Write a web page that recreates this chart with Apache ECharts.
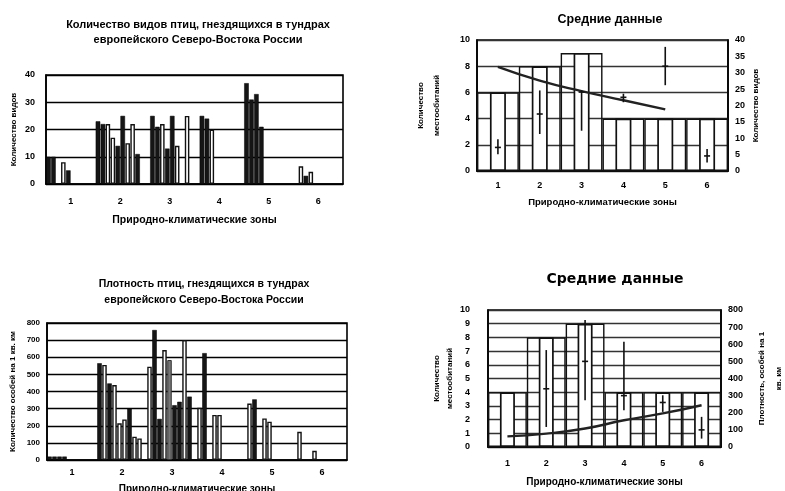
<!DOCTYPE html>
<html><head><meta charset="utf-8">
<script src="https://cdn.jsdelivr.net/npm/echarts@6/dist/echarts.min.js"></script>
<style>html,body{margin:0;padding:0;background:#fff}#c{width:785px;height:491px}</style>
</head><body><div id="c"></div>
<script>
// ---------- DATA ----------
const zones = ['1', '2', '3', '4', '5', '6'];
// fine slots (10 per zone) used for the individual sites of the two left charts
const slots = ['1','2','3','4','5','6','7','8','9','10','11','12','13','14','15','16','17','18','19','20',
  '21','22','23','24','25','26','27','28','29','30','31','32','33','34','35','36','37','38','39','40',
  '41','42','43','44','45','46','47','48','49','50','51','52','53','54','55','56','57','58','59','60'];

// Top-left: number of species per site (dark / light bars)
const speciesDark = [
  10, 10, null, null, 5, null, null, null, null, null,
  23, 22, null, null, 14, 25, null, null, 11, null,
  null, 25, 21, null, 13, 25, null, null, null, null,
  null, 25, 24, null, null, null, null, null, null, null,
  37, 31, 33, 21, null, null, null, null, null, null,
  null, null, 3, null, null, null, null, null, null, null];
const speciesLight = [
  null, null, null, 8, null, null, null, null, null, null,
  null, null, 22, 17, null, null, 15, 22, null, null,
  null, null, null, 22, null, null, 14, null, 25, null,
  null, null, null, 20, null, null, null, null, null, null,
  null, null, null, null, null, null, null, null, null, null,
  null, 6.5, null, 4.5, null, null, null, null, null, null];

// Bottom-left: density per site (dark / light / grey bars)
const densityDark = [
  20, 20, 20, 20, null, null, null, null, null, null,
  565, null, 447, null, null, null, 300, null, null, null,
  null, 759, 240, null, null, 320, 340, null, 370, null,
  null, 624, null, null, null, null, null, null, null, null,
  null, 354, null, null, null, null, null, null, null, null,
  null, null, null, null, null, null, null, null, null, null];
const densityLight = [
  null, null, null, null, null, null, null, null, null, null,
  null, 555, null, 438, 214, 237, null, 136, 126, null,
  545, null, null, 642, null, null, null, 700, null, null,
  305, null, null, 263, 263, null, null, null, null, null,
  330, null, null, 243, 224, null, null, null, null, null,
  165, null, null, 54, null, null, null, null, null, null];
const densityGrey = [
  null, null, null, null, null, null, null, null, null, null,
  null, null, null, null, null, null, null, null, null, null,
  null, null, null, null, 584, null, null, null, null, null,
  null, null, null, null, null, null, null, null, null, null,
  null, null, null, null, null, null, null, null, null, null,
  null, null, null, null, null, null, null, null, null, null];

// Top-right: mean data
const habitatsA = [6, 8, 9, 4, 4, 4];
const speciesTrend = [31.8, 27.6, 24.4, 21.6, 18.8, null];
const speciesLow = [5.1, 11.3, 12.3, 21.0, 26.2, 2.6];
const speciesHigh = [9.7, 24.6, 24.6, 23.6, 37.9, 6.7];
const speciesMean = [7.2, 17.4, 24.1, 22.5, 32, 4.6];

// Bottom-right: mean data
const habitatsB = [4, 8, 9, 4, 4, 4];
const densityTrend = [62, 78, 108, 156, 196, 244];
const densityLow = [null, 117, 273, 215, 205, 49];
const densityHigh = [null, 566, 741, 615, 302, 176];
const densityMean = [null, 340, 500, 300, 260, 100];

// ---------- CHART ----------
const FONT = 'Liberation Sans';
const lbl = (extra) => Object.assign({color: '#000', fontFamily: FONT, fontWeight: 'bold', fontSize: 9}, extra || {});
const nameStyle = (extra) => Object.assign({color: '#000', fontFamily: FONT, fontWeight: 'bold', fontSize: 9}, extra || {});
const gridStyle = {show: true, borderColor: '#000', borderWidth: 1.6, backgroundColor: '#fff',
  containLabel: false, outerBoundsMode: 'none'};

function errData(lo, hi, mean) {
  const out = [];
  zones.forEach((z, i) => { if (lo[i] != null) out.push([i, lo[i], hi[i], mean[i]]); });
  return out;
}
function renderErr(params, api) {
  const i = api.value(0);
  const a = api.coord([i, api.value(1)]);
  const b = api.coord([i, api.value(2)]);
  const m = api.coord([i, api.value(3)]);
  return {type: 'group', children: [
    {type: 'line', shape: {x1: a[0], y1: a[1], x2: b[0], y2: b[1]}, style: {stroke: '#111', lineWidth: 1.6}},
    {type: 'line', shape: {x1: m[0] - 3, y1: m[1], x2: m[0] + 3, y2: m[1]}, style: {stroke: '#111', lineWidth: 1.6}}
  ]};
}
function zoneAxis(grid, margin, nameGap, nameSize) {
  return {type: 'category', gridIndex: grid, data: zones, boundaryGap: true,
    axisLine: {lineStyle: {color: '#000', width: 1.6}}, axisTick: {show: false},
    axisLabel: lbl({margin: margin}),
    name: 'Природно-климатические зоны', nameLocation: 'middle', nameGap: nameGap,
    nameTextStyle: nameStyle({fontSize: nameSize})};
}
function hiddenAxis(grid, data) {
  return {type: 'category', gridIndex: grid, data: data, show: false, boundaryGap: true};
}

const chart = echarts.init(document.getElementById('c'));
chart.setOption({
  animation: false,
  backgroundColor: '#fff',
  title: [
    {text: 'Количество видов птиц, гнездящихся в тундрах\nевропейского Северо-Востока России', left: 193, top: 12, textAlign: 'center',
      textStyle: {fontFamily: FONT, fontWeight: 'bold', fontSize: 11, lineHeight: 15, color: '#000'}},
    {text: 'Средние данные', left: 605, top: 8, textAlign: 'center',
      textStyle: {fontFamily: FONT, fontWeight: 'bold', fontSize: 12.5, color: '#000'}},
    {text: 'Плотность птиц, гнездящихся в тундрах\nевропейского Северо-Востока России', left: 199, top: 271, textAlign: 'center',
      textStyle: {fontFamily: FONT, fontWeight: 'bold', fontSize: 10.5, lineHeight: 16, color: '#000'}},
    {text: 'Средние данные', left: 610, top: 267, textAlign: 'center',
      textStyle: {fontFamily: 'DejaVu Sans', fontWeight: 'bold', fontSize: 14, color: '#000'}}
  ],
  grid: [
    Object.assign({left: 46, top: 75, width: 297, height: 109}, gridStyle),
    Object.assign({left: 477, top: 40, width: 251, height: 131}, gridStyle),
    Object.assign({left: 47, top: 323, width: 300, height: 137}, gridStyle),
    Object.assign({left: 488, top: 310, width: 233, height: 137}, gridStyle)
  ],
  xAxis: [
    zoneAxis(0, 13, 31, 10.5),
    hiddenAxis(0, slots),
    zoneAxis(1, 10, 26, 9.5),
    hiddenAxis(1, zones),
    zoneAxis(2, 8, 24, 10),
    hiddenAxis(2, slots),
    zoneAxis(3, 12, 30, 10),
    hiddenAxis(3, zones)
  ],
  yAxis: [
    {type: 'value', gridIndex: 0, min: 0, max: 40, interval: 10,
      axisLine: {show: true, lineStyle: {color: '#000', width: 1.6}}, axisTick: {show: false},
      splitLine: {lineStyle: {color: '#000', width: 1.4}}, axisLabel: lbl({margin: 11}),
      name: 'Количество видов', nameLocation: 'middle', nameGap: 28, nameTextStyle: nameStyle({fontSize: 8})},
    {type: 'value', gridIndex: 1, min: 0, max: 10, interval: 2,
      axisLine: {show: true, lineStyle: {color: '#000', width: 1.6}}, axisTick: {show: false},
      splitLine: {lineStyle: {color: '#333', width: 1.3}}, axisLabel: lbl({margin: 7}),
      name: 'Количество\nместообитаний', nameLocation: 'middle', nameGap: 32, nameTextStyle: nameStyle({fontSize: 8, lineHeight: 16})},
    {type: 'value', gridIndex: 1, position: 'right', min: 0, max: 40, interval: 5,
      axisLine: {show: true, lineStyle: {color: '#000', width: 1.6}}, axisTick: {show: false},
      splitLine: {show: false}, axisLabel: lbl({margin: 7}),
      name: 'Количество видов', nameLocation: 'middle', nameGap: 24, nameTextStyle: nameStyle({fontSize: 8})},
    {type: 'value', gridIndex: 2, min: 0, max: 800, interval: 100,
      axisLine: {show: true, lineStyle: {color: '#000', width: 1.6}}, axisTick: {show: false},
      splitLine: {lineStyle: {color: '#000', width: 1.4}}, axisLabel: lbl({margin: 7, fontSize: 8}),
      name: 'Количество особей на 1 кв. км', nameLocation: 'middle', nameGap: 30, nameTextStyle: nameStyle({fontSize: 8})},
    {type: 'value', gridIndex: 3, min: 0, max: 10, interval: 1,
      axisLine: {show: true, lineStyle: {color: '#000', width: 1.6}}, axisTick: {show: false},
      splitLine: {lineStyle: {color: '#333', width: 1.3}}, axisLabel: lbl({margin: 18}),
      name: 'Количество\nместообитаний', nameLocation: 'middle', nameGap: 25, nameTextStyle: nameStyle({fontSize: 8, lineHeight: 13})},
    {type: 'value', gridIndex: 3, position: 'right', min: 0, max: 800, interval: 100,
      axisLine: {show: true, lineStyle: {color: '#000', width: 1.6}}, axisTick: {show: false},
      splitLine: {show: false}, axisLabel: lbl({margin: 7}),
      name: 'Плотность, особей на 1\nкв. км', nameLocation: 'middle', nameGap: 32, nameTextStyle: nameStyle({fontSize: 8, lineHeight: 17})}
  ],
  series: [
    // top-left
    {type: 'bar', xAxisIndex: 1, yAxisIndex: 0, data: speciesDark, barGap: '-100%', barCategoryGap: '8%',
      itemStyle: {color: '#151515', borderColor: '#000', borderWidth: 0.5}},
    {type: 'bar', xAxisIndex: 1, yAxisIndex: 0, data: speciesLight,
      itemStyle: {color: '#fff', borderColor: '#111', borderWidth: 1.4}},
    // top-right
    {type: 'bar', xAxisIndex: 3, yAxisIndex: 1, data: habitatsA, barCategoryGap: '0%',
      itemStyle: {color: 'rgba(0,0,0,0)', borderColor: '#111', borderWidth: 1.4}},
    {type: 'bar', xAxisIndex: 2, yAxisIndex: 1, data: habitatsA, barWidth: 16,
      itemStyle: {color: '#fff', borderColor: '#111', borderWidth: 1.7}},
    {type: 'line', xAxisIndex: 2, yAxisIndex: 2, data: speciesTrend, smooth: true, symbol: 'none',
      lineStyle: {color: '#222', width: 2.4}},
    {type: 'custom', xAxisIndex: 2, yAxisIndex: 2, data: errData(speciesLow, speciesHigh, speciesMean),
      renderItem: renderErr, encode: {x: 0, y: [1, 2, 3]}, z: 5},
    // bottom-left
    {type: 'bar', xAxisIndex: 5, yAxisIndex: 3, data: densityDark, barGap: '-100%', barCategoryGap: '10%',
      itemStyle: {color: '#151515', borderColor: '#000', borderWidth: 0.5}},
    {type: 'bar', xAxisIndex: 5, yAxisIndex: 3, data: densityLight,
      itemStyle: {color: '#fff', borderColor: '#111', borderWidth: 1.4}},
    {type: 'bar', xAxisIndex: 5, yAxisIndex: 3, data: densityGrey,
      itemStyle: {color: '#777', borderColor: '#333', borderWidth: 1}},
    // bottom-right
    {type: 'bar', xAxisIndex: 7, yAxisIndex: 4, data: habitatsB, barCategoryGap: '0%',
      itemStyle: {color: 'rgba(0,0,0,0)', borderColor: '#111', borderWidth: 1.4}},
    {type: 'bar', xAxisIndex: 6, yAxisIndex: 4, data: habitatsB, barWidth: 15,
      itemStyle: {color: '#fff', borderColor: '#111', borderWidth: 1.7}},
    {type: 'line', xAxisIndex: 6, yAxisIndex: 5, data: densityTrend, smooth: true, symbol: 'none',
      lineStyle: {color: '#222', width: 2.4}},
    {type: 'custom', xAxisIndex: 6, yAxisIndex: 5, data: errData(densityLow, densityHigh, densityMean),
      renderItem: renderErr, encode: {x: 0, y: [1, 2, 3]}, z: 5}
  ]
});
</script></body></html>
